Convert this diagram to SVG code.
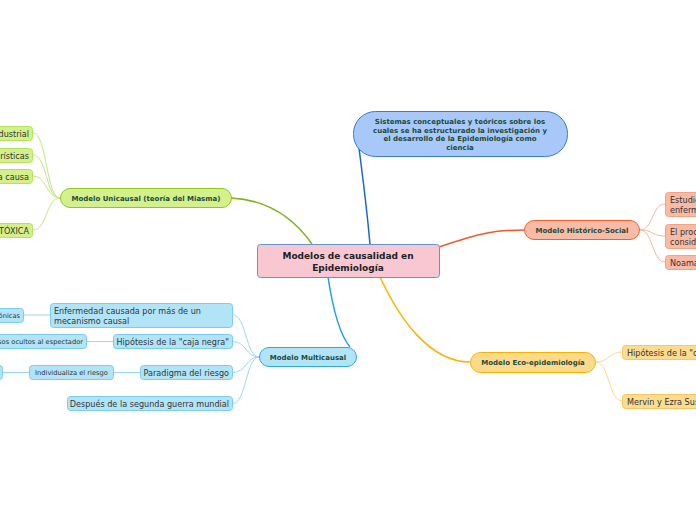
<svg xmlns="http://www.w3.org/2000/svg" width="696" height="520" viewBox="0 0 696 520">
<style>
text{font-family:"DejaVu Sans","Liberation Sans",sans-serif}
.main{font-size:9px;font-weight:bold;fill:#222}
.l1{font-size:7px;font-weight:bold;fill:#1d4a3c}
.l2{font-size:8.1px;fill:#333}
.l3{font-size:6.7px;fill:#333}
.c{fill:none}
</style>
<rect width="696" height="520" fill="#fff"/>
<g id="connectors">
<path class="c" d="M370,244 C366,200 362,172 359,148" stroke="#1a66d0" stroke-width="1.5"/>
<path class="c" d="M439,247 C480,233 495,230 524,230" stroke="#f05a28" stroke-width="1.5"/>
<path class="c" d="M380,277 C400,320 430,362 470,362" stroke="#f8b400" stroke-width="1.5"/>
<path class="c" d="M328,277 C333,310 340,335 350,347" stroke="#20a0e0" stroke-width="1.5"/>
<path class="c" d="M231,198 C270,200 295,220 312,244" stroke="#80b418" stroke-width="1.5"/>
<g stroke="#f8b89c" stroke-width="1">
<path class="c" d="M640,230 C653,230 652,204 665,204"/>
<path class="c" d="M640,230 C653,230 652,236 665,236"/>
<path class="c" d="M640,230 C653,230 652,262 665,262"/>
</g>
<g stroke="#fcd890" stroke-width="1">
<path class="c" d="M596,362 C609,362 609,352 622,352"/>
<path class="c" d="M596,362 C609,362 609,401 622,401"/>
</g>
<g stroke="#9ad8f4" stroke-width="1">
<path class="c" d="M259,357 C246,357 246,315 233,315"/>
<path class="c" d="M259,357 C246,357 246,341.5 233,341.5"/>
<path class="c" d="M259,357 C246,357 246,372.5 233,372.5"/>
<path class="c" d="M259,357 C246,357 246,403.5 233,403.5"/>
<path class="c" d="M50,315 L24,315"/>
<path class="c" d="M113,341.5 L87,341.5"/>
<path class="c" d="M140,372.5 L114,372.5"/>
<path class="c" d="M29,372.5 L3,372.5"/>
</g>
<g stroke="#c4e488" stroke-width="1">
<path class="c" d="M60,198 C46,198 47,133 33,133"/>
<path class="c" d="M60,198 C46,198 47,155 33,155"/>
<path class="c" d="M60,198 C46,198 47,176 33,176"/>
<path class="c" d="M60,198 C46,198 47,230 33,230"/>
</g>
</g>
<g id="center">
<rect x="257.5" y="244.5" width="182" height="33" rx="3" fill="#f9c7d2" stroke="#5f96cf"/>
<text class="main" x="348" y="259" text-anchor="middle">Modelos de causalidad en</text>
<text class="main" x="348" y="271" text-anchor="middle">Epidemiología</text>
</g>
<g id="sistemas">
<rect x="353.5" y="111.5" width="214" height="45" rx="22" fill="#a8c8fa" stroke="#3a78d8"/>
<text class="l1" x="460" y="124" text-anchor="middle">Sistemas conceptuales y teóricos sobre los</text>
<text class="l1" x="460" y="132.5" text-anchor="middle">cuales se ha estructurado la investigación y</text>
<text class="l1" x="460" y="141" text-anchor="middle">el desarrollo de la Epidemiología como</text>
<text class="l1" x="460" y="149.5" text-anchor="middle">ciencia</text>
</g>
<g id="historico">
<rect x="524.5" y="220.5" width="115" height="19" rx="9.5" fill="#f9bba6" stroke="#f06030"/>
<text class="l1" x="582" y="232.5" text-anchor="middle">Modelo Histórico-Social</text>
</g>
<g id="hist1">
<rect x="665.5" y="192.5" width="60" height="24" rx="3" fill="#f9bba6" stroke="#f5a284"/>
<text class="l2" x="670" y="203">Estudio de la</text>
<text class="l2" x="670" y="213">enfermedad</text>
</g>
<g id="hist2">
<rect x="665.5" y="224.5" width="60" height="24" rx="3" fill="#f9bba6" stroke="#f5a284"/>
<text class="l2" x="670" y="235">El proceso</text>
<text class="l2" x="670" y="245">considerado</text>
</g>
<g id="hist3">
<rect x="665.5" y="255.5" width="60" height="14" rx="3" fill="#f9bba6" stroke="#f5a284"/>
<text class="l2" x="670" y="265.5">Noamann</text>
</g>
<g id="eco">
<rect x="470.5" y="352.5" width="125" height="20" rx="10" fill="#fdd98a" stroke="#f4b400"/>
<text class="l1" x="533" y="365" text-anchor="middle">Modelo Eco-epidemiología</text>
</g>
<g id="eco1">
<rect x="622.5" y="345.5" width="90" height="14" rx="3" fill="#fddc90" stroke="#f8c860"/>
<text class="l2" x="627" y="355.5">Hipótesis de la "caja china"</text>
</g>
<g id="eco2">
<rect x="622.5" y="394.5" width="90" height="14" rx="3" fill="#fddc90" stroke="#f8c860"/>
<text class="l2" x="627" y="404.5">Mervin y Ezra Susser</text>
</g>
<g id="multicausal">
<rect x="259.5" y="347.5" width="97" height="19" rx="9.5" fill="#b2e4f8" stroke="#30a8e0"/>
<text class="l1" x="308" y="359.5" text-anchor="middle">Modelo Multicausal</text>
</g>
<g id="mc1">
<rect x="50.5" y="303.5" width="182" height="24" rx="3" fill="#b2e4f8" stroke="#7cccf0"/>
<text class="l2" x="54" y="313.5">Enfermedad causada por más de un</text>
<text class="l2" x="54" y="324">mecanismo causal</text>
</g>
<g id="mc1a">
<rect x="-40.5" y="308.5" width="64" height="14" rx="3" fill="#b2e4f8" stroke="#7cccf0"/>
<text class="l3" x="20" y="318" text-anchor="end">Enfermedades crónicas</text>
</g>
<g id="mc2">
<rect x="113.5" y="334.5" width="119" height="14" rx="3" fill="#b2e4f8" stroke="#7cccf0"/>
<text class="l2" x="229" y="344.5" text-anchor="end">Hipótesis de la "caja negra"</text>
</g>
<g id="mc2a">
<rect x="-40.5" y="334.5" width="127" height="14" rx="3" fill="#b2e4f8" stroke="#7cccf0"/>
<text class="l3" x="83" y="344" text-anchor="end">Procesos ocultos al espectador</text>
</g>
<g id="mc3">
<rect x="140.5" y="365.5" width="92" height="14" rx="3" fill="#b2e4f8" stroke="#7cccf0"/>
<text class="l2" x="229" y="375.5" text-anchor="end">Paradigma del riesgo</text>
</g>
<g id="mc3a">
<rect x="29.5" y="365.5" width="84" height="14" rx="3" fill="#b2e4f8" stroke="#7cccf0"/>
<text class="l3" x="71.5" y="375" text-anchor="middle">Individualiza el riesgo</text>
</g>
<g id="mc3b">
<rect x="-40.5" y="365.5" width="43" height="14" rx="3" fill="#b2e4f8" stroke="#7cccf0"/>
</g>
<g id="mc4">
<rect x="67.5" y="396.5" width="165" height="14" rx="3" fill="#b2e4f8" stroke="#7cccf0"/>
<text class="l2" x="229" y="406.5" text-anchor="end">Después de la segunda guerra mundial</text>
</g>
<g id="unicausal">
<rect x="60.5" y="188.5" width="171" height="19" rx="9.5" fill="#d4f08a" stroke="#8cc820"/>
<text class="l1" x="146" y="200.5" text-anchor="middle">Modelo Unicausal (teoría del Miasma)</text>
</g>
<g id="u1">
<rect x="-40.5" y="126.5" width="73" height="14" rx="3" fill="#d4f08a" stroke="#b4e060"/>
<text class="l2" x="29" y="136.5" text-anchor="end">Revolución industrial</text>
</g>
<g id="u2">
<rect x="-40.5" y="148.5" width="73" height="14" rx="3" fill="#d4f08a" stroke="#b4e060"/>
<text class="l2" x="29" y="158.5" text-anchor="end">Características</text>
</g>
<g id="u3">
<rect x="-40.5" y="169.5" width="73" height="14" rx="3" fill="#d4f08a" stroke="#b4e060"/>
<text class="l2" x="29" y="179.5" text-anchor="end">Única causa</text>
</g>
<g id="u4">
<rect x="-40.5" y="223.5" width="73" height="14" rx="3" fill="#d4f08a" stroke="#b4e060"/>
<text class="l2" x="29" y="233.5" text-anchor="end">TEORÍA TÓXICA</text>
</g>
</svg>
